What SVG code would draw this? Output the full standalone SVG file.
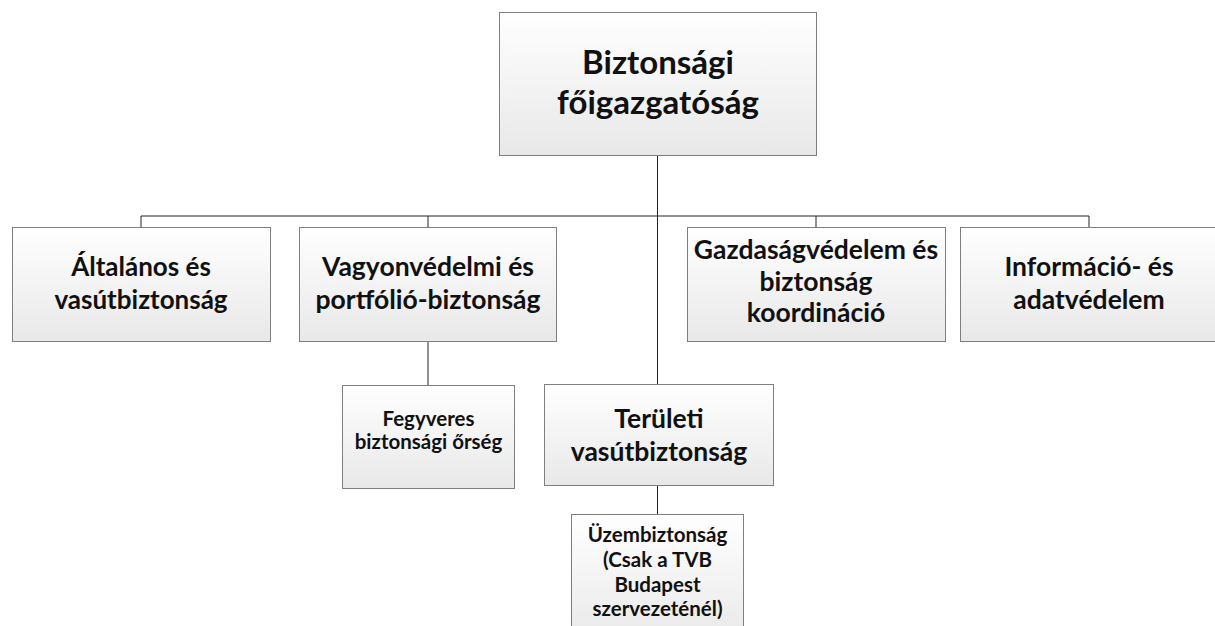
<svg xmlns="http://www.w3.org/2000/svg" width="1215" height="626" viewBox="0 0 1215 626">
  <defs>
    <linearGradient id="boxFill" x1="0" y1="0" x2="0" y2="1">
      <stop offset="0" stop-color="#ffffff"/>
      <stop offset="1" stop-color="#e8e8e8"/>
    </linearGradient>
    <style>
      .box { fill: url(#boxFill); stroke: #7f7f7f; stroke-width: 1; }
      .lbl { font-family: Lato, "Noto Sans", "DejaVu Sans", sans-serif; font-weight: bold; fill: #111; text-anchor: middle; }
      .xl { font-size: 33px; }
      .lg { font-size: 26.5px; }
      .md { font-size: 26px; }
      .sm { font-size: 20.5px; }
      .conn line { stroke: #222; stroke-width: 1; }
    </style>
  </defs>
  <rect width="1215" height="626" fill="#ffffff"/>

  <!-- connectors -->
  <g id="connectors" class="conn">
    <line x1="657.5" y1="155" x2="657.5" y2="384"/>
    <line x1="141" y1="216" x2="1089" y2="216"/>
    <line x1="141" y1="216" x2="141" y2="227"/>
    <line x1="428" y1="216" x2="428" y2="227"/>
    <line x1="816" y1="216" x2="816" y2="227"/>
    <line x1="1089" y1="216" x2="1089" y2="227"/>
    <line x1="428" y1="342" x2="428" y2="385"/>
    <line x1="657.5" y1="486" x2="657.5" y2="514"/>
  </g>

  <!-- top node -->
  <g id="n-fo">
    <rect class="box" x="499.5" y="12.5" width="317" height="143"/>
    <text class="lbl xl" x="658" y="74">Biztonsági</text>
    <text class="lbl xl" x="658" y="114">főigazgatóság</text>
  </g>

  <!-- second level -->
  <g id="n-altalanos">
    <rect class="box" x="12.5" y="227.5" width="258" height="114"/>
    <text class="lbl md" x="141" y="276">Általános és</text>
    <text class="lbl md" x="141" y="309">vasútbiztonság</text>
  </g>
  <g id="n-vagyon">
    <rect class="box" x="299.5" y="227.5" width="257" height="114"/>
    <text class="lbl lg" x="428" y="276">Vagyonvédelmi és</text>
    <text class="lbl lg" x="428" y="309">portfólió-biztonság</text>
  </g>
  <g id="n-gazdasag">
    <rect class="box" x="687.5" y="227.5" width="258" height="114"/>
    <text class="lbl lg" x="816" y="259">Gazdaságvédelem és</text>
    <text class="lbl lg" x="816" y="291">biztonság</text>
    <text class="lbl lg" x="816" y="322">koordináció</text>
  </g>
  <g id="n-informacio">
    <rect class="box" x="960.5" y="227.5" width="258" height="114"/>
    <text class="lbl lg" x="1089" y="276">Információ- és</text>
    <text class="lbl lg" x="1089" y="309">adatvédelem</text>
  </g>

  <!-- third level -->
  <g id="n-fegyveres">
    <rect class="box" x="342.5" y="385.5" width="172" height="103"/>
    <text class="lbl sm" x="428.5" y="426">Fegyveres</text>
    <text class="lbl sm" x="428.5" y="449">biztonsági őrség</text>
  </g>
  <g id="n-teruleti">
    <rect class="box" x="544.5" y="384.5" width="229" height="101"/>
    <text class="lbl lg" x="659" y="428">Területi</text>
    <text class="lbl lg" x="659" y="461">vasútbiztonság</text>
  </g>
  <g id="n-uzem">
    <rect class="box" x="571.5" y="514.5" width="172" height="130"/>
    <text class="lbl sm" x="657.5" y="542">Üzembiztonság</text>
    <text class="lbl sm" x="657.5" y="567">(Csak a TVB</text>
    <text class="lbl sm" x="657.5" y="592">Budapest</text>
    <text class="lbl sm" x="657.5" y="616">szervezeténél)</text>
  </g>
</svg>
